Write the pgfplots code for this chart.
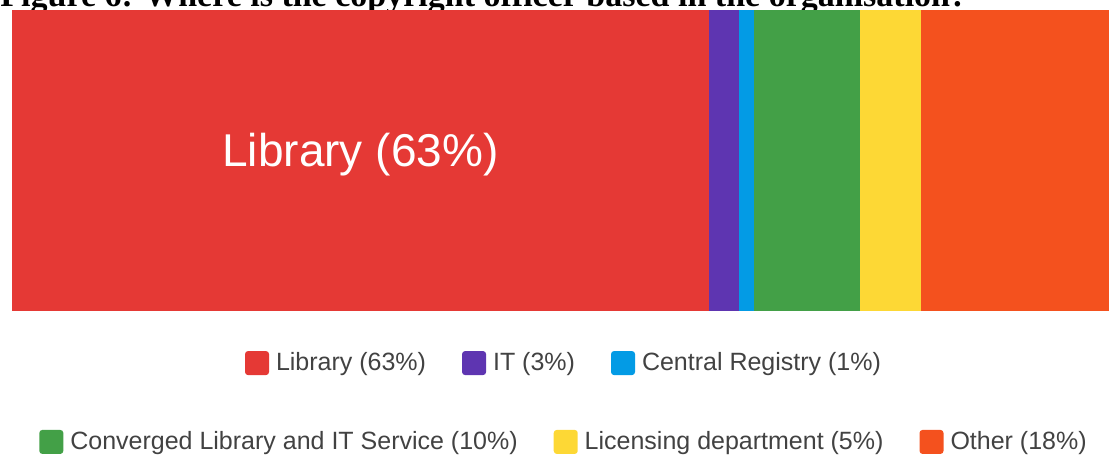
\documentclass[border=0pt]{standalone}
\usepackage{fontspec}
\setmainfont{Liberation Sans}
\newfontfamily\titlefont{Liberation Serif}
\usepackage{pgfplots}
\pgfplotsset{compat=1.18}

\definecolor{libred}{HTML}{E53935}
\definecolor{itpurple}{HTML}{5E35B1}
\definecolor{crblue}{HTML}{039BE5}
\definecolor{convgreen}{HTML}{43A047}
\definecolor{licyellow}{HTML}{FDD835}
\definecolor{othorange}{HTML}{F4511E}
\definecolor{legtext}{HTML}{424242}

\pgfplotsset{
  legsq/.style={legend image code/.code={\fill[##1, rounded corners=1.5pt] (0pt,-6pt) rectangle (12pt,6pt);}},
  mylegend/.style={
    legend columns=3,
    legend style={draw=none, fill=none, anchor=center, text=legtext,
      font=\fontsize{12.5}{15}\selectfont,
      /tikz/every odd column/.append style={column sep=1.5pt},
      /tikz/every even column/.append style={column sep=16pt}},
  },
}

\begin{document}
\begin{tikzpicture}
% 1 px of the reference = 0.5pt
\useasboundingbox (0pt,0pt) rectangle (554.5pt,-229.5pt);
\clip (0pt,0pt) rectangle (554.5pt,-229.5pt);

\node[anchor=base west, inner sep=0pt, font=\titlefont\bfseries\fontsize{17}{20}\selectfont]
  at (0pt,-3.5pt) {Figure 6: Where is the copyright officer based in the organisation?};

% respondents per location (n = 73)
\begin{axis}[
  at={(6pt,-155.5pt)}, anchor=south west,
  scale only axis, width=553pt, height=150.5pt,
  hide axis,
  xbar stacked, bar width=150.5pt,
  xmin=0, xmax=73, ymin=-0.5, ymax=0.5,
  mylegend,
  legend style={at={(0.5,-0.173)}},
]
\addlegendimage{legsq, fill=libred, draw=none}
\addlegendimage{legsq, fill=itpurple, draw=none}
\addlegendimage{legsq, fill=crblue, draw=none}
\addplot[fill=libred, draw=none] coordinates {(46,0)};
\addplot[fill=itpurple, draw=none] coordinates {(2,0)};
\addplot[fill=crblue, draw=none] coordinates {(1,0)};
\addplot[fill=convgreen, draw=none] coordinates {(7,0)};
\addplot[fill=licyellow, draw=none] coordinates {(4,0)};
\addplot[fill=othorange, draw=none] coordinates {(13,0)};
\legend{Library (63\%), IT (3\%), Central Registry (1\%)}
\coordinate (liblab) at (axis cs:23,0);
\end{axis}
\node[anchor=base, text=white, font=\fontsize{23}{27}\selectfont, yshift=-3.25pt]
  at (liblab) {Library (63\%)};

\begin{axis}[
  at={(6pt,-155.5pt)}, anchor=south west,
  scale only axis, width=553pt, height=150.5pt,
  hide axis,
  xmin=0, xmax=1, ymin=0, ymax=1,
  mylegend,
  legend style={at={(0.5,-0.435)}},
]
\addlegendimage{legsq, fill=convgreen, draw=none}
\addlegendimage{legsq, fill=licyellow, draw=none}
\addlegendimage{legsq, fill=othorange, draw=none}
\legend{Converged Library and IT Service (10\%), Licensing department (5\%), Other (18\%)}
\end{axis}
\end{tikzpicture}
\end{document}
